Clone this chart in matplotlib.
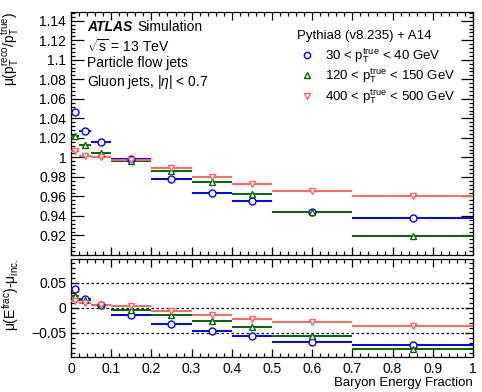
import numpy as np
import matplotlib
matplotlib.use('Agg')
from matplotlib import pyplot as plt
from matplotlib.lines import Line2D
from matplotlib.ticker import MultipleLocator

plt.rcParams['font.family'] = ['Liberation Sans', 'DejaVu Sans']
plt.rcParams['mathtext.fontset'] = 'custom'
plt.rcParams['mathtext.rm'] = 'Liberation Sans'
plt.rcParams['mathtext.it'] = 'Liberation Sans:italic'
plt.rcParams['mathtext.bf'] = 'Liberation Sans:bold'

# bin edges of baryon energy fraction
edges = np.array([0.0, 0.02, 0.05, 0.1, 0.2, 0.3, 0.4, 0.5, 0.7, 1.0])

# response mean
resp_30_40 = [1.047, 1.027, 1.016, 0.998, 0.978, 0.964, 0.955, 0.944, 0.938]
resp_120_150 = [1.022, 1.013, 1.004, 0.996, 0.986, 0.975, 0.962, 0.944, 0.919]
resp_400_500 = [1.007, 1.001, 1.000, 0.997, 0.989, 0.980, 0.973, 0.966, 0.960]

# difference to inclusive
diff_30_40 = [0.037, 0.017, 0.006, -0.014, -0.033, -0.047, -0.056, -0.069, -0.074]
diff_120_150 = [0.023, 0.015, 0.006, -0.004, -0.014, -0.026, -0.039, -0.057, -0.082]
diff_400_500 = [0.013, 0.009, 0.005, 0.003, -0.007, -0.014, -0.023, -0.029, -0.036]

labels = [r'30 < $\mathrm{p}_{\mathrm{T}}^{\mathrm{true}}$ < 40 GeV',
          r'120 < $\mathrm{p}_{\mathrm{T}}^{\mathrm{true}}$ < 150 GeV',
          r'400 < $\mathrm{p}_{\mathrm{T}}^{\mathrm{true}}$ < 500 GeV']
colors = ['#0000ff', '#006600', '#ff6666']
markers = ['o', '^', 'v']

centers = 0.5 * (edges[1:] + edges[:-1])
half = 0.5 * (edges[1:] - edges[:-1])

fig = plt.figure(figsize=(4.82, 3.92), dpi=100)
ax1 = fig.add_axes([0.1473, 0.3495, 0.834, 0.62])
ax2 = fig.add_axes([0.1473, 0.0893, 0.834, 0.25])

ax2.axhline(0.05, color='k', ls=(0, (2, 2)), lw=0.9, zorder=1)
ax2.axhline(0.0, color='k', ls=(0, (2, 2)), lw=0.9, zorder=1)
ax2.axhline(-0.05, color='k', ls=(0, (2, 2)), lw=0.9, zorder=1)

handles = []
for resp, diff, c, m in zip([resp_30_40, resp_120_150, resp_400_500],
                            [diff_30_40, diff_120_150, diff_400_500],
                            colors, markers):
    ax1.errorbar(centers, resp, xerr=half, fmt=m, color=c, mfc='white', mec=c,
                 ms=5, mew=1.0, elinewidth=1.4, capsize=0, zorder=3)
    ax2.errorbar(centers, diff, xerr=half, fmt=m, color=c, mfc='white', mec=c,
                 ms=5, mew=1.0, elinewidth=1.4, capsize=0, zorder=3)
    handles.append(Line2D([], [], ls='none', marker=m, mfc='white', mec=c, ms=4.5, mew=1.0))

ax1.set_xlim(0, 1)
ax1.set_ylim(0.9, 1.149)
ax2.set_xlim(0, 1)
ax2.set_ylim(-0.098, 0.098)

for ax in (ax1, ax2):
    ax.xaxis.set_major_locator(MultipleLocator(0.1))
    ax.xaxis.set_minor_locator(MultipleLocator(0.02))
    ax.tick_params(which='both', direction='in', top=True, right=True, labelsize=10, width=0.9)
    ax.tick_params(which='major', length=6)
    ax.tick_params(which='minor', length=3)
    for s in ax.spines.values():
        s.set_linewidth(0.9)

ax1.yaxis.set_major_locator(MultipleLocator(0.02))
ax1.yaxis.set_minor_locator(MultipleLocator(0.004))
ax1.set_yticks([0.92, 0.94, 0.96, 0.98, 1.0, 1.02, 1.04, 1.06, 1.08, 1.1, 1.12, 1.14])
ax1.set_yticklabels(['0.92', '0.94', '0.96', '0.98', '1', '1.02', '1.04', '1.06', '1.08',
                     '1.1', '1.12', '1.14'])
ax1.tick_params(labelbottom=False)
ax1.tick_params(axis='y', which='major', length=9)

ax2.yaxis.set_minor_locator(MultipleLocator(0.01))
ax2.set_yticks([-0.05, 0, 0.05])
ax2.set_yticklabels(['\u22120.05', '0', '0.05'])
ax2.set_xticks(np.arange(0, 1.01, 0.1))
ax2.set_xticklabels(['0', '0.1', '0.2', '0.3', '0.4', '0.5', '0.6', '0.7', '0.8', '0.9', '1'])

ax1.set_ylabel(r'μ($\mathrm{p}_{\mathrm{T}}^{\mathrm{reco}}/\mathrm{p}_{\mathrm{T}}^{\mathrm{true}}$)',
               fontsize=10, loc='top')
ax2.set_ylabel(r'μ($\mathrm{E}^{\mathrm{frac}}$)-μ$_{\mathrm{inc.}}$', fontsize=10, loc='top')
ax1.yaxis.set_label_coords(-0.125, 1.0)
ax2.yaxis.set_label_coords(-0.125, 1.0)
fig.text(473 / 482, 1 - 383 / 392, 'Baryon Energy Fraction', fontsize=9.5, ha='right', va='center')

ax1.text(0.04, 0.965, 'ATLAS', fontsize=10, fontweight='bold', fontstyle='italic',
         transform=ax1.transAxes, va='top')
ax1.text(0.165, 0.965, 'Simulation', fontsize=10, transform=ax1.transAxes, va='top')
ax1.text(0.04, 0.893, r'$\sqrt{\mathrm{s}}$ = 13 TeV', fontsize=10, transform=ax1.transAxes, va='top')
ax1.text(0.04, 0.82, 'Particle flow jets', fontsize=10, transform=ax1.transAxes, va='top')
ax1.text(0.04, 0.748, r'Gluon jets, |$\eta$| < 0.7', fontsize=10, transform=ax1.transAxes, va='top')

ax1.text(0.562, 0.9, 'Pythia8 (v8.235) + A14', fontsize=9.5, transform=ax1.transAxes, va='center')
ax1.legend(handles, labels, loc='upper left', bbox_to_anchor=(0.57, 0.86), frameon=False,
           fontsize=9.5, handlelength=1.0, handletextpad=0.9, labelspacing=0.15,
           borderaxespad=0.0, borderpad=0.0)

fig.savefig('out.png', dpi=100)
